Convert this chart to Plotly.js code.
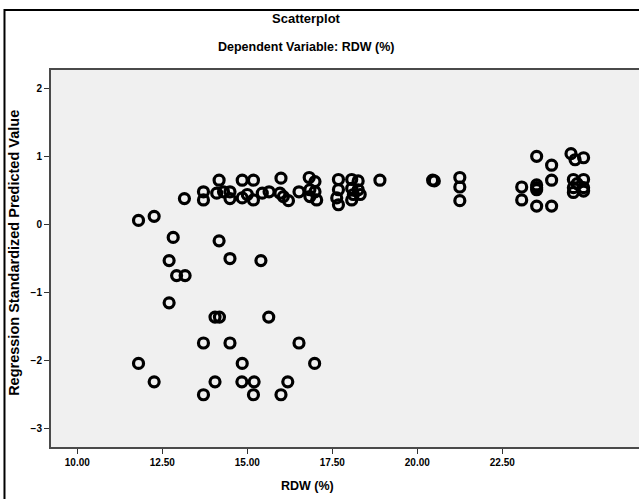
<!DOCTYPE html>
<html>
<head>
<meta charset="utf-8">
<script src="https://cdn.plot.ly/plotly-3.0.1.min.js"></script>
<style>html,body{margin:0;padding:0;background:#fff;}#chart{width:639px;height:499px;}</style>
</head>
<body>
<div id="chart"></div>
<script>
// RDW (%) values and regression standardized predicted values
const rdwUpper = [13.15,13.71,13.71,14.10,14.17,14.30,14.49,14.49,14.85,15.18,14.85,15.18,15.00,15.44,15.64,15.99,15.96,16.06,16.21,16.52,16.82,16.99,16.84,16.84,16.99,17.04,17.68,17.68,17.63,17.68,18.07,18.26,18.07,18.26,18.12,18.32,18.07,18.90,20.45,20.50,21.25,21.25,21.25,23.07,23.07,23.51,23.51,23.51,23.51,23.51,23.95,23.95,23.95,24.52,24.64,24.89,24.59,24.89,24.59,24.89,24.59,24.89,24.70];
const predUpper = [0.38,0.48,0.36,0.46,0.65,0.48,0.48,0.38,0.65,0.65,0.39,0.36,0.44,0.46,0.48,0.68,0.46,0.41,0.35,0.48,0.69,0.63,0.51,0.41,0.48,0.36,0.66,0.51,0.39,0.29,0.66,0.64,0.53,0.51,0.44,0.44,0.36,0.65,0.65,0.64,0.69,0.55,0.35,0.55,0.36,1.00,0.58,0.54,0.51,0.27,0.87,0.65,0.27,1.04,0.95,0.98,0.66,0.66,0.54,0.54,0.47,0.49,0.60];
const rdwLower = [11.80,12.26,12.82,14.17,12.70,14.49,15.40,12.92,13.17,12.70,14.05,14.18,15.63,13.71,14.49,16.52,11.80,14.85,16.98,12.26,14.05,14.84,15.20,16.19,13.71,15.18,15.99];
const predLower = [0.06,0.12,-0.19,-0.24,-0.53,-0.50,-0.53,-0.75,-0.75,-1.15,-1.36,-1.36,-1.36,-1.74,-1.74,-1.74,-2.04,-2.04,-2.04,-2.31,-2.31,-2.31,-2.31,-2.31,-2.50,-2.50,-2.50];
const xTicks = [10, 12.5, 15, 17.5, 20, 22.5];
const xTickText = ["10.00","12.50","15.00","17.50","20.00","22.50"];
const yTicks = [-3, -2, -1, 0, 1, 2];

const F = "Liberation Sans, Arial, sans-serif";
const trace = {
  x: rdwUpper.concat(rdwLower),
  y: predUpper.concat(predLower),
  type: 'scatter', mode: 'markers',
  marker: {symbol: 'circle-open', size: 10, color: '#000', line: {color: '#000', width: 3.2}},
  hoverinfo: 'none'
};
const layout = {
  width: 639, height: 499,
  margin: {l: 51, r: 0, t: 70, b: 51.5, pad: 0},
  paper_bgcolor: '#ffffff', plot_bgcolor: '#f0f0f0',
  showlegend: false,
  font: {family: F, color: '#000'},
  xaxis: {
    range: [9.226, 26.52], tickvals: xTicks, ticktext: xTickText,
    showgrid: false, zeroline: false, showline: true, linecolor: '#4a4a4a', linewidth: 2, mirror: true,
    ticks: 'outside', ticklen: 5, tickwidth: 1, tickcolor: '#333',
    tickfont: {family: F, size: 10, color: '#000', weight: 'bold'}
  },
  yaxis: {
    range: [-3.267, 2.268], tickvals: yTicks,
    showgrid: false, zeroline: false, showline: true, linecolor: '#4a4a4a', linewidth: 2, mirror: true,
    ticks: 'outside', ticklen: 5, tickwidth: 1, tickcolor: '#333',
    tickfont: {family: F, size: 10, color: '#000', weight: 'bold'}
  },
  annotations: [
    {text: 'Scatterplot', xref: 'paper', yref: 'paper', x: 0.434, y: 1.1377, xanchor: 'center', yanchor: 'middle', showarrow: false, font: {family: F, size: 13, color: '#000', weight: 'bold'}},
    {text: 'Dependent Variable: RDW (%)', xref: 'paper', yref: 'paper', x: 0.434, y: 1.061, xanchor: 'center', yanchor: 'middle', showarrow: false, font: {family: F, size: 12.5, color: '#000', weight: 'bold'}},
    {text: 'RDW (%)', xref: 'paper', yref: 'paper', x: 0.437, y: -0.1046, xanchor: 'center', yanchor: 'middle', showarrow: false, font: {family: F, size: 12.5, color: '#000', weight: 'bold'}},
    {text: 'Regression Standardized Predicted Value', xref: 'paper', yref: 'paper', x: -0.0629, y: 0.515, xanchor: 'center', yanchor: 'middle', textangle: -90, showarrow: false, font: {family: F, size: 14.5, color: '#000', weight: 'bold'}}
  ],
  shapes: [
    {type: 'rect', xref: 'paper', yref: 'paper', x0: -0.0791, x1: 1.2, y0: -0.3, y1: 1.159, line: {color: '#000', width: 2}, fillcolor: 'rgba(0,0,0,0)', layer: 'below'}
  ]
};
Plotly.newPlot('chart', [trace], layout, {staticPlot: true, displayModeBar: false});
</script>
</body>
</html>
